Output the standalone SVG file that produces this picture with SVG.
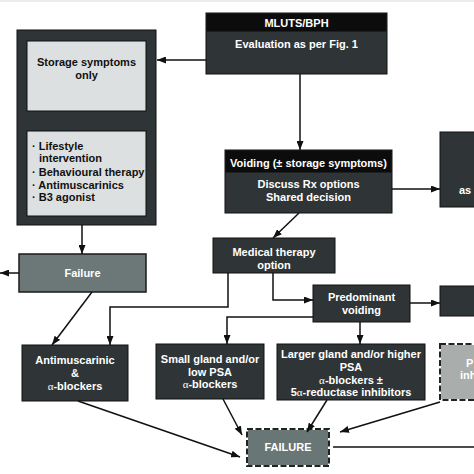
<svg xmlns="http://www.w3.org/2000/svg" width="474" height="474" viewBox="0 0 474 474">
<style>
.t{font-family:"Liberation Sans",Arial,sans-serif;font-weight:bold;font-size:11px;fill:#ffffff;text-anchor:middle}
.d{fill:#111111}
.s{text-anchor:start}
.box{fill:#2f3536;stroke:#111111;stroke-width:1}
.hdr{fill:#0c0c0c}
.lt{fill:#dde0e0;stroke:#111111;stroke-width:1}
.gr{fill:#6c7878;stroke:#1a1a1a;stroke-width:1.5}
.a{font-family:"Liberation Serif",serif;font-weight:normal}
.c{fill:none;stroke:#111111;stroke-width:1.5}
.dw{stroke:#ffffff;stroke-width:2}
.dk{fill:none;stroke:#222222;stroke-width:2;stroke-dasharray:6 2.5}
</style>
<defs>
<marker id="ah" markerUnits="userSpaceOnUse" markerWidth="9" markerHeight="7" refX="9" refY="3.5" orient="auto">
<path d="M0,0 L9,3.5 L0,7 z" fill="#111111"/>
</marker>
</defs>
<rect x="0" y="0" width="474" height="474" fill="#ffffff"/>
<rect x="0" y="0" width="474" height="2" fill="#ececec"/>

<g id="mluts">
<rect class="box" x="206" y="13" width="181" height="61"/>
<rect class="hdr" x="206.5" y="13.5" width="180" height="18"/>
<text class="t" x="296.5" y="27">MLUTS/BPH</text>
<text class="t" x="296.5" y="48">Evaluation as per Fig. 1</text>
</g>

<g id="storage">
<rect class="box" x="17" y="30" width="139" height="195"/>
<rect class="lt" x="27" y="41" width="119" height="70"/>
<text class="t d" x="86.5" y="66">Storage symptoms</text>
<text class="t d" x="86.5" y="79">only</text>
<rect class="lt" x="27" y="131" width="119" height="85"/>
<text class="t d s" x="32" y="150">· Lifestyle</text>
<text class="t d s" x="39" y="162">intervention</text>
<text class="t d s" x="32" y="176">· Behavioural therapy</text>
<text class="t d s" x="32" y="189">· Antimuscarinics</text>
<text class="t d s" x="32" y="201">· B3 agonist</text>
</g>

<g id="voiding">
<rect class="box" x="225" y="150" width="167" height="63"/>
<rect class="hdr" x="225.5" y="150.5" width="166" height="22"/>
<text class="t" x="308.5" y="167">Voiding (± storage symptoms)</text>
<text class="t" x="308.5" y="188">Discuss Rx options</text>
<text class="t" x="308.5" y="201">Shared decision</text>
</g>

<g id="right1">
<rect class="box" x="440" y="132" width="40" height="75"/>
<text class="t s" x="459" y="194">as</text>
</g>

<g id="medical">
<rect class="box" x="213" y="238" width="122" height="35"/>
<text class="t" x="274" y="256">Medical therapy</text>
<text class="t" x="274" y="269">option</text>
</g>

<g id="predominant">
<rect class="box" x="313" y="285" width="97" height="37"/>
<text class="t" x="361.5" y="301">Predominant</text>
<text class="t" x="361.5" y="314">voiding</text>
</g>

<g id="right2">
<rect class="box" x="440" y="286" width="40" height="30"/>
</g>

<g id="failure1">
<rect class="gr" x="19" y="254" width="127" height="38"/>
<text class="t" x="82.5" y="277">Failure</text>
</g>

<g id="antimusc">
<rect class="box" x="22" y="345" width="106" height="56"/>
<text class="t" x="75" y="364">Antimuscarinic</text>
<text class="t" x="75" y="377">&amp;</text>
<text class="t" x="75" y="390"><tspan class="a">α</tspan>-blockers</text>
</g>

<g id="small">
<rect class="box" x="156" y="344" width="108" height="55"/>
<text class="t" x="210" y="363">Small gland and/or</text>
<text class="t" x="210" y="376">low PSA</text>
<text class="t" x="210" y="388"><tspan class="a">α</tspan>-blockers</text>
</g>

<g id="larger">
<rect class="box" x="277" y="344" width="148" height="56"/>
<text class="t" x="351" y="358">Larger gland and/or higher</text>
<text class="t" x="351" y="371">PSA</text>
<text class="t" x="351" y="384"><tspan class="a">α</tspan>-blockers ±</text>
<text class="t" x="351" y="396">5<tspan class="a">α</tspan>-reductase inhibitors</text>
</g>

<g id="pde5">
<rect x="440" y="344" width="40" height="56" fill="#a9aeac" class="dw"/>
<rect x="440" y="344" width="40" height="56" class="dk"/>
<text class="t s" x="466" y="367">P</text>
<text class="t s" x="460" y="379">inh</text>
</g>

<g id="failure2">
<rect x="247" y="429" width="82" height="37" fill="#697676" class="dw"/>
<rect x="247" y="429" width="82" height="37" class="dk"/>
<text class="t" x="288" y="451">FAILURE</text>
</g>

<g id="connectors">
<line class="c" x1="206" y1="60" x2="157" y2="60" marker-end="url(#ah)"/>
<line class="c" x1="300" y1="74" x2="300" y2="150" marker-end="url(#ah)"/>
<line class="c" x1="392" y1="189" x2="440" y2="189" marker-end="url(#ah)"/>
<line class="c" x1="299" y1="213" x2="273" y2="238" marker-end="url(#ah)"/>
<line class="c" x1="82" y1="225" x2="82" y2="254" marker-end="url(#ah)"/>
<line class="c" x1="19" y1="273" x2="0" y2="273" marker-end="url(#ah)"/>
<line class="c" x1="92" y1="292" x2="52" y2="345" marker-end="url(#ah)"/>
<polyline class="c" points="228,273 228,307 110,307 110,345" marker-end="url(#ah)"/>
<polyline class="c" points="273,273 273,300 313,300" marker-end="url(#ah)"/>
<polyline class="c" points="313,317 227,317 227,344" marker-end="url(#ah)"/>
<line class="c" x1="410" y1="303" x2="440" y2="303" marker-end="url(#ah)"/>
<line class="c" x1="360" y1="322" x2="360" y2="344" marker-end="url(#ah)"/>
<line class="c" x1="78" y1="401" x2="240" y2="457" marker-end="url(#ah)"/>
<line class="c" x1="223" y1="399" x2="242" y2="435" marker-end="url(#ah)"/>
<line class="c" x1="327" y1="400" x2="307" y2="432" marker-end="url(#ah)"/>
<line class="c" x1="440" y1="402" x2="340" y2="432" marker-end="url(#ah)"/>
<line class="c" x1="333" y1="447" x2="474" y2="447"/>
</g>
</svg>
